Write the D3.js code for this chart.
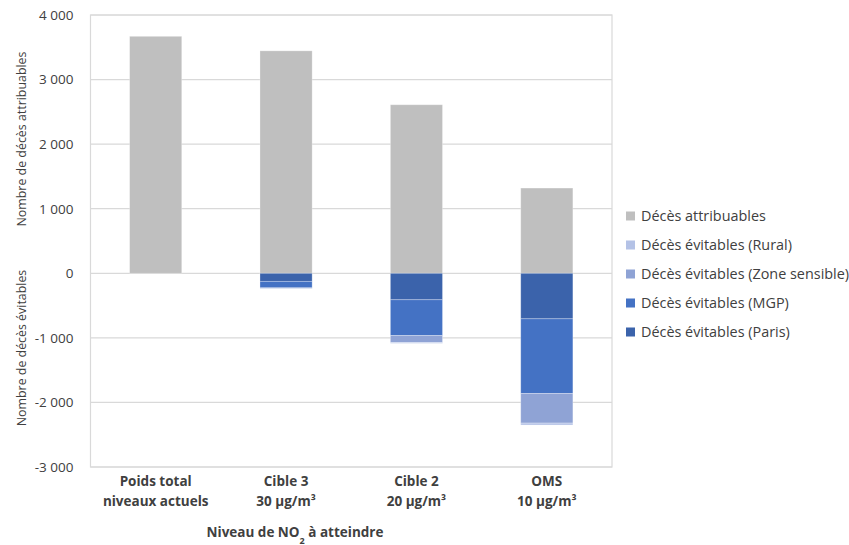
<!DOCTYPE html>
<html><head><meta charset="utf-8">
<script src="https://cdn.jsdelivr.net/npm/d3@7"></script>
<style>
body{margin:0;background:#fff;}
text{font-family:"Open Sans",sans-serif;fill:#404040;}
</style></head>
<body><svg id="c" width="849" height="545"></svg>
<script>
const categories = [["Poids total","niveaux actuels"],["Cible 3","30 µg/m³"],["Cible 2","20 µg/m³"],["OMS","10 µg/m³"]];
const attribuables = [3670, 3445, 2610, 1320];
const evitParis = [0, -125, -410, -705];
const evitMGP = [0, -100, -555, -1155];
const evitZone = [0, -10, -105, -460];
const evitRural = [0, -5, -15, -30];
const yTicks = [-3000, -2000, -1000, 0, 1000, 2000, 3000, 4000];
const legendLabels = ["Décès attribuables","Décès évitables (Rural)","Décès évitables (Zone sensible)","Décès évitables (MGP)","Décès évitables (Paris)"];
const colors = {attr:"#BFBFBF", rural:"#B4C2E6", zone:"#8FA3D5", mgp:"#4472C4", paris:"#3B63AB"};

const svg = d3.select("#c");
const mLeft = 90.5, mRight = 612, mTop = 15, mBottom = 467;
const x = d3.scaleBand().domain(d3.range(categories.length)).range([mLeft, mRight]).paddingInner(0.6).paddingOuter(0.3);
const y = d3.scaleLinear().domain([-3000, 4000]).range([mBottom, mTop]);
const loc = d3.formatLocale({thousands:" ", grouping:[3], decimal:",", currency:["",""], minus:"-"});
const fmt = loc.format(",d");

// gridlines
svg.append("g").selectAll("line").data(yTicks).join("line")
  .attr("x1", mLeft).attr("x2", mRight).attr("y1", d=>y(d)).attr("y2", d=>y(d))
  .attr("stroke", "#D9D9D9").attr("stroke-width", 1.2);
// box
svg.append("rect").attr("x", mLeft).attr("y", y(4000)).attr("width", mRight-mLeft).attr("height", y(-3000)-y(4000))
  .attr("fill","none").attr("stroke","#D9D9D9").attr("stroke-width",1.2);

// y axis
const yAxis = d3.axisLeft(y).tickValues(yTicks).tickFormat(fmt).tickSize(0).tickPadding(17);
const ga = svg.append("g").attr("transform", `translate(${mLeft},0)`).call(yAxis);
ga.select(".domain").remove();
ga.selectAll("text").style("font-size","13.5px").style("font-family","'Open Sans',sans-serif").attr("fill","#404040");

// bars
const bw = x.bandwidth();
const stacks = categories.map((c,i)=>{
  const segs = [];
  segs.push({v0:0, v1:attribuables[i], c:colors.attr});
  let acc = 0;
  [[evitParis,colors.paris],[evitMGP,colors.mgp],[evitZone,colors.zone],[evitRural,colors.rural]].forEach(([arr,col])=>{
    segs.push({v0:acc, v1:acc+arr[i], c:col}); acc += arr[i];
  });
  return segs.map(s=>({...s, i}));
}).flat().filter(s=>s.v0!==s.v1);

svg.append("g").selectAll("rect").data(stacks).join("rect")
  .attr("x", d=>x(d.i)).attr("width", bw)
  .attr("y", d=>y(Math.max(d.v0,d.v1))).attr("height", d=>Math.abs(y(d.v0)-y(d.v1)))
  .attr("fill", d=>d.c).attr("stroke","#ffffff").attr("stroke-opacity",0.35).attr("stroke-width",0.8);

// x labels
const gx = svg.append("g");
categories.forEach((c,i)=>{
  const t = gx.append("text").attr("x", x(i)+bw/2).attr("text-anchor","middle")
    .style("font-size","13.5px").style("font-weight","bold");
  t.append("tspan").attr("x", x(i)+bw/2).attr("y", 486).text(c[0]);
  t.append("tspan").attr("x", x(i)+bw/2).attr("y", 506).text(c[1]);
});
// x title
const xt = svg.append("text").attr("x", 295).attr("y", 537).attr("text-anchor","middle")
  .style("font-size","13.5px").style("font-weight","bold");
xt.append("tspan").text("Niveau de NO");
xt.append("tspan").attr("baseline-shift","sub").style("font-size","9px").text("2");
xt.append("tspan").text(" à atteindre");

// y titles
svg.append("text").attr("transform","translate(26,139) rotate(-90)").attr("text-anchor","middle")
  .style("font-size","12.4px").text("Nombre de décès attribuables");
svg.append("text").attr("transform","translate(26,348) rotate(-90)").attr("text-anchor","middle")
  .style("font-size","12.4px").text("Nombre de décès évitables");

// legend
const legCols = [colors.attr, colors.rural, colors.zone, colors.mgp, colors.paris];
const lg = svg.append("g");
legendLabels.forEach((l,i)=>{
  const cy = 216 + i*29;
  lg.append("rect").attr("x",626).attr("y",cy-4.5).attr("width",9).attr("height",9).attr("fill",legCols[i]);
  lg.append("text").attr("x",641).attr("y",cy+5).style("font-size","14.4px").text(l);
});
</script></body></html>
